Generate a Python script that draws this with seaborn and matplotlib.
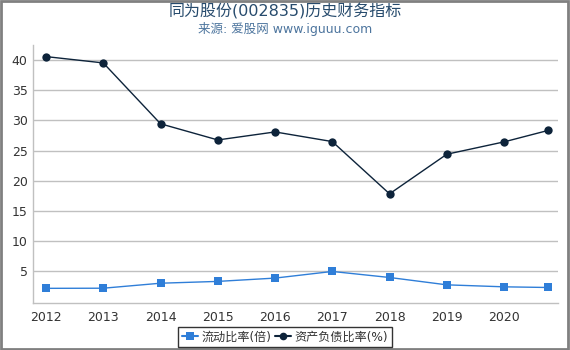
import matplotlib
matplotlib.use("Agg")
import matplotlib.pyplot as plt
import seaborn as sns
import pandas as pd
from matplotlib.patches import Rectangle
from matplotlib.lines import Line2D

# Data
years = [2012, 2013, 2014, 2015, 2016, 2017, 2018, 2019, 2020, 2020.77]
current_ratio = [2.15, 2.17, 3.0, 3.3, 3.85, 4.95, 3.95, 2.73, 2.4, 2.29]
debt_ratio = [40.6, 39.55, 29.45, 26.77, 28.1, 26.5, 17.83, 24.4, 26.45, 28.35]
tick_years = [2012, 2013, 2014, 2015, 2016, 2017, 2018, 2019, 2020]
y_ticks = [5, 10, 15, 20, 25, 30, 35, 40]
name1 = "流动比率(倍)"
name2 = "资产负债比率(%)"

sns.set_theme(style="white")
plt.rcParams['font.family'] = ['DejaVu Sans', 'Noto Sans CJK SC']

df = pd.DataFrame({"year": years + years,
                   "value": current_ratio + debt_ratio,
                   "series": [name1] * len(years) + [name2] * len(years)})

fig = plt.figure(figsize=(5.7, 3.5), dpi=100)
ax = fig.add_axes([0.058, 0.134, 0.921, 0.737])

blue = "#2f7ed8"
navy = "#0d233a"
sns.lineplot(data=df, x="year", y="value", hue="series", style="series",
             palette={name1: blue, name2: navy},
             markers={name1: "s", name2: "o"}, dashes=False,
             linewidth=1.0, markersize=6, markeredgewidth=0,
             ax=ax, legend=False)

ax.set_xlim(2011.773, 2020.943)
ax.set_ylim(-0.3, 42.5)
ax.set_xticks(tick_years)
ax.set_xticklabels([str(t) for t in tick_years])
ax.set_yticks(y_ticks)
ax.set_xlabel("")
ax.set_ylabel("")
ax.grid(axis="y", color="#c0c0c0", linewidth=1)
ax.set_axisbelow(True)
for s in ["top", "right"]:
    ax.spines[s].set_visible(False)
ax.spines["left"].set_color("#c0c0c0")
ax.spines["bottom"].set_color("#c0c0c0")
ax.spines["left"].set_linewidth(1)
ax.spines["bottom"].set_linewidth(1)
ax.tick_params(axis="both", labelsize=9, colors="#333333", length=0, pad=4)
ax.tick_params(axis="x", length=4, color="#c0d0e0", pad=2)

fig.text(0.5, 0.968, "同为股份(002835)历史财务指标", ha="center", va="center",
         fontsize=11.5, color="#274b6d")
fig.text(0.5, 0.918, "来源: 爱股网 www.iguuu.com", ha="center", va="center",
         fontsize=9, color="#4d759e")

handles = [Line2D([0], [0], color=blue, marker="s", markersize=5.5, lw=1.5, markeredgewidth=0),
           Line2D([0], [0], color=navy, marker="o", markersize=5.5, lw=1.5, markeredgewidth=0)]
leg = fig.legend(handles, [name1, name2], loc="center", bbox_to_anchor=(0.5, 0.037),
                 ncol=2, fontsize=8.7, frameon=True, fancybox=False, handlelength=1.3,
                 handletextpad=0.3, columnspacing=0.3, borderpad=0.3, borderaxespad=0)
leg.get_frame().set_edgecolor("black")
leg.get_frame().set_linewidth(1)
for t in leg.get_texts():
    t.set_color("#333333")

fig.patches.append(Rectangle((0.002, 0.003), 0.995, 0.994, transform=fig.transFigure,
                             fill=False, edgecolor="#808080", linewidth=2))

fig.savefig("out.png", dpi=100)
